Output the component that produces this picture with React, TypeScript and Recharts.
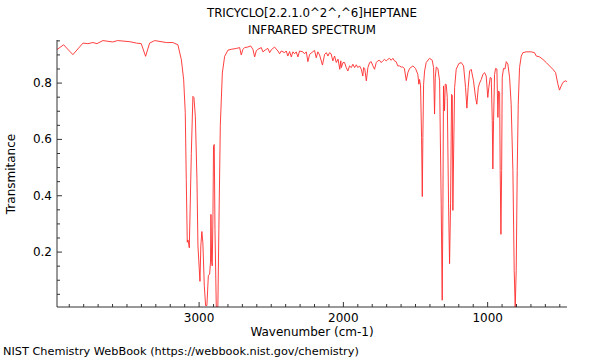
import { LineChart, Line, XAxis, YAxis } from "recharts";

// wavenumber (cm-1) and transmittance
const wavenumbers = [
  3985, 3939, 3875, 3805, 3771, 3736, 3708, 3667, 3599, 3565, 3480, 3435, 3401, 3371, 3343, 3308,
  3227, 3182, 3147, 3123, 3107, 3096, 3089, 3082, 3077, 3073, 3068, 3054, 3043, 3036, 3026, 3015,
  3008, 2994, 2988, 2981, 2974, 2964, 2955, 2946, 2936, 2927, 2921, 2918, 2913, 2909, 2904, 2900,
  2895, 2890, 2881, 2870, 2863, 2853, 2839, 2823, 2800, 2777, 2742, 2719, 2708, 2696, 2685, 2662,
  2643, 2627, 2615, 2604, 2593, 2569, 2558, 2540, 2523, 2511, 2500, 2477, 2454, 2442, 2431, 2407,
  2396, 2385, 2373, 2361, 2350, 2338, 2327, 2315, 2304, 2281, 2269, 2257, 2246, 2234, 2200, 2188,
  2177, 2165, 2145, 2130, 2118, 2107, 2096, 2085, 2073, 2061, 2049, 2037, 2025, 2018, 2014, 2003,
  1992, 1980, 1969, 1957, 1945, 1934, 1922, 1911, 1899, 1888, 1876, 1865, 1860, 1852, 1841, 1830,
  1818, 1807, 1795, 1784, 1772, 1761, 1750, 1738, 1727, 1715, 1703, 1692, 1680, 1669, 1657, 1646,
  1634, 1623, 1611, 1599, 1588, 1577, 1564, 1553, 1541, 1518, 1500, 1484, 1477, 1472, 1465, 1458,
  1453, 1449, 1444, 1437, 1426, 1403, 1384, 1375, 1368, 1363, 1356, 1345, 1333, 1322, 1315, 1310,
  1306, 1299, 1294, 1287, 1280, 1271, 1264, 1257, 1250, 1245, 1241, 1236, 1229, 1218, 1200, 1183,
  1167, 1153, 1144, 1135, 1125, 1114, 1098, 1084, 1075, 1065, 1056, 1044, 1033, 1021, 1010, 999,
  992, 982, 975, 968, 964, 959, 952, 945, 936, 929, 924, 917, 913, 908, 903, 899,
  890, 880, 871, 860, 848, 837, 825, 816, 809, 802, 795, 788, 779, 767, 756, 733,
  698, 675, 663, 640, 617, 594, 571, 548, 529, 513, 502, 490, 479, 462, 450,
];
const transmittance = [
  0.919, 0.936, 0.901, 0.942, 0.94, 0.944, 0.94, 0.951, 0.946, 0.951, 0.947, 0.942, 0.94, 0.895, 0.942, 0.951,
  0.944, 0.944, 0.936, 0.883, 0.812, 0.696, 0.458, 0.235, 0.243, 0.232, 0.215, 0.55, 0.753, 0.749, 0.682, 0.458,
  0.222, 0.096, 0.222, 0.273, 0.234, 0.08, 0.01, 0.01, 0.116, 0.122, 0.164, 0.334, 0.164, 0.151, 0.334, 0.576,
  0.582, 0.281, 0.006, 0.006, 0.281, 0.65, 0.836, 0.895, 0.917, 0.92, 0.923, 0.926, 0.9, 0.92, 0.926, 0.928,
  0.932, 0.92, 0.893, 0.914, 0.92, 0.926, 0.911, 0.918, 0.923, 0.908, 0.918, 0.928, 0.914, 0.904, 0.914, 0.908,
  0.914, 0.896, 0.912, 0.893, 0.911, 0.904, 0.911, 0.893, 0.914, 0.911, 0.904, 0.911, 0.876, 0.902, 0.916, 0.89,
  0.911, 0.9, 0.864, 0.902, 0.908, 0.896, 0.908, 0.904, 0.879, 0.896, 0.873, 0.885, 0.849, 0.879, 0.855, 0.873,
  0.873, 0.855, 0.843, 0.861, 0.855, 0.867, 0.855, 0.865, 0.855, 0.861, 0.849, 0.825, 0.855, 0.852, 0.808, 0.855,
  0.873, 0.876, 0.861, 0.849, 0.873, 0.879, 0.881, 0.873, 0.879, 0.884, 0.879, 0.884, 0.888, 0.881, 0.888, 0.879,
  0.876, 0.861, 0.861, 0.857, 0.857, 0.852, 0.809, 0.837, 0.852, 0.861, 0.852, 0.831, 0.796, 0.813, 0.79, 0.607,
  0.397, 0.607, 0.796, 0.843, 0.873, 0.888, 0.881, 0.855, 0.69, 0.82, 0.857, 0.852, 0.808, 0.371, 0.029, 0.371,
  0.79, 0.702, 0.796, 0.795, 0.749, 0.371, 0.159, 0.371, 0.76, 0.755, 0.348, 0.548, 0.784, 0.849, 0.869, 0.873,
  0.861, 0.784, 0.711, 0.784, 0.843, 0.849, 0.808, 0.749, 0.725, 0.784, 0.8, 0.813, 0.831, 0.837, 0.825, 0.749,
  0.784, 0.82, 0.818, 0.666, 0.495, 0.666, 0.831, 0.852, 0.85, 0.678, 0.772, 0.766, 0.49, 0.263, 0.49, 0.82,
  0.852, 0.85, 0.876, 0.867, 0.82, 0.725, 0.49, 0.135, 0.005, 0.135, 0.49, 0.725, 0.855, 0.896, 0.908, 0.911,
  0.911, 0.908, 0.896, 0.893, 0.884, 0.873, 0.861, 0.849, 0.837, 0.796, 0.775, 0.79, 0.802, 0.808, 0.805,
];

const xTicks = [
  3900, 3800, 3700, 3600, 3500, 3400, 3300, 3200, 3100, 3000, 2900, 2800, 2700, 2600, 2500, 2400, 2300,
  2200, 2100, 2000, 1900, 1800, 1700, 1600, 1500, 1400, 1300, 1200, 1100, 1000, 900, 800, 700, 600, 500,
];
const xLabels = [3000, 2000, 1000];
const yTicks = [
  0.05, 0.1, 0.15, 0.2, 0.25, 0.3, 0.35, 0.4, 0.45, 0.5, 0.55, 0.6, 0.65, 0.7, 0.75, 0.8, 0.85, 0.9, 0.95,
];
const yLabels = [0.2, 0.4, 0.6, 0.8];

const data = wavenumbers.map((wn, i) => ({ wn, t: transmittance[i] }));

const PLOT = { left: 57, top: 40, right: 567, bottom: 307 };
const FONT = "DejaVu Sans";
const AXIS = "#333";

function XTick({ x, payload }: any) {
  const v = payload.value;
  const major = xLabels.includes(v);
  return (
    <g>
      <line x1={x} x2={x} y1={PLOT.bottom} y2={PLOT.bottom - (major ? 5 : 3)} stroke={AXIS} />
      {major && (
        <text x={x} y={PLOT.bottom + 15} textAnchor="middle" fontSize={12} fontFamily={FONT} fill="#000">
          {v}
        </text>
      )}
    </g>
  );
}

function YTick({ y, payload }: any) {
  const v = payload.value;
  const major = yLabels.some((l) => Math.abs(l - v) < 1e-6);
  return (
    <g>
      <line x1={PLOT.left} x2={PLOT.left + (major ? 5 : 3)} y1={y} y2={y} stroke={AXIS} />
      {major && (
        <text x={PLOT.left - 5} y={y + 4} textAnchor="end" fontSize={12} fontFamily={FONT} fill="#000">
          {v.toFixed(1)}
        </text>
      )}
    </g>
  );
}

export default function App() {
  return (
    <div style={{ position: "absolute", left: 0, top: 0, width: 600, height: 360, fontFamily: FONT, background: "#fff" }}>
      <LineChart
        width={600}
        height={360}
        data={data}
        margin={{ top: PLOT.top, right: 600 - PLOT.right, bottom: 0, left: 0 }}
      >
        <XAxis
          dataKey="wn"
          type="number"
          domain={[450, 3985]}
          reversed
          allowDataOverflow
          ticks={xTicks}
          interval={0}
          tick={<XTick />}
          tickLine={false}
          axisLine={{ stroke: AXIS }}
          height={360 - PLOT.bottom}
        />
        <XAxis
          xAxisId="top"
          orientation="top"
          dataKey="wn"
          type="number"
          domain={[450, 3985]}
          reversed
          tick={false}
          tickLine={false}
          axisLine={{ stroke: "#999", strokeWidth: 2 }}
          height={0}
        />
        <YAxis
          type="number"
          domain={[0.005, 0.953]}
          allowDataOverflow
          ticks={yTicks}
          interval={0}
          tick={<YTick />}
          tickLine={false}
          axisLine={{ stroke: AXIS }}
          width={PLOT.left}
        />
        <YAxis
          yAxisId="right"
          orientation="right"
          type="number"
          domain={[0.005, 0.953]}
          tick={false}
          tickLine={false}
          axisLine={{ stroke: "#999", strokeWidth: 1.5 }}
          width={0}
        />
        <Line
          dataKey="t"
          type="linear"
          stroke="#ff2a2a"
          strokeWidth={0.9}
          dot={false}
          isAnimationActive={false}
        />
      </LineChart>
      <div style={{ position: "absolute", left: 0, width: 624, top: 5, textAlign: "center", fontSize: 11.8, lineHeight: "17px" }}>
        TRICYCLO[2.2.1.0^2^,^6]HEPTANE
        <br />
        INFRARED SPECTRUM
      </div>
      <div style={{ position: "absolute", left: 0, width: 624, top: 326, textAlign: "center", fontSize: 12, lineHeight: "13px" }}>
        Wavenumber (cm-1)
      </div>
      <div
        style={{
          position: "absolute",
          left: 11,
          top: 174,
          fontSize: 12,
          transform: "translate(-50%, -50%) rotate(-90deg)",
          whiteSpace: "nowrap",
        }}
      >
        Transmitance
      </div>
      <div style={{ position: "absolute", left: 3, top: 345, fontSize: 11.3 }}>
        NIST Chemistry WebBook (https://webbook.nist.gov/chemistry)
      </div>
    </div>
  );
}
